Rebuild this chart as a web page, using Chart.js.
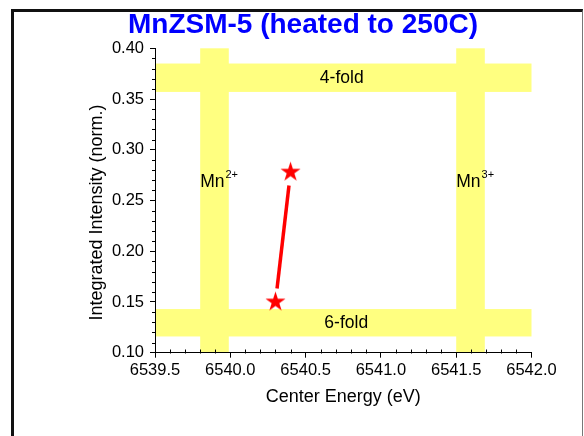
<!DOCTYPE html>
<html>
<head>
<meta charset="utf-8">
<script src="https://cdn.jsdelivr.net/npm/chart.js@4/dist/chart.umd.min.js"></script>
<style>
  html, body { margin: 0; padding: 0; background: #fff; width: 584px; height: 436px; overflow: hidden; }
  #frame { position: absolute; left: 11px; top: 9px; width: 568px; height: 520px;
           border-left: 3px solid #111; border-top: 3px solid #111; border-right: 1px solid #777; }
  #c { position: absolute; left: 0; top: 0; }
</style>
</head>
<body>
<div id="frame"></div>
<canvas id="c" width="584" height="436"></canvas>
<script>
// Measured points: pre-edge centroid energy vs. integrated intensity
const centerEnergy = [6540.30, 6540.40];
const intensity    = [0.150, 0.278];

// Axis ticks
const xTicks = [6539.5, 6540.0, 6540.5, 6541.0, 6541.5, 6542.0];
const yTicks = [0.10, 0.15, 0.20, 0.25, 0.30, 0.35, 0.40];

// Reference ranges: coordination (intensity) and oxidation state (energy)
const coordinationBands  = [[0.116, 0.143], [0.357, 0.385]];
const coordinationLabels = ['6-fold', '4-fold'];
const oxidationBands     = [[6539.80, 6539.99], [6541.50, 6541.69]];
const oxidationLabels    = [['Mn', '2+'], ['Mn', '3+']];

const FONT = '"Liberation Sans", Arial, Helvetica, sans-serif';
const BAND_COLOR = '#ffff80';
const RED = '#ff0000';

function starImage(r, color) {
  const size = Math.ceil(2 * r + 2);
  const cv = document.createElement('canvas');
  cv.width = cv.height = size;
  const g = cv.getContext('2d');
  const c = size / 2, ri = r * 0.382;
  g.fillStyle = color;
  g.beginPath();
  for (let i = 0; i < 10; i++) {
    const rad = i % 2 ? ri : r;
    const a = -Math.PI / 2 + i * Math.PI / 5;
    g.lineTo(c + rad * Math.cos(a), c + rad * Math.sin(a));
  }
  g.closePath();
  g.fill();
  return cv;
}
const STAR_R = 10.5;
const star = starImage(STAR_R, RED);

// Shaded reference bands and their labels, drawn beneath the axes
const bandsPlugin = {
  id: 'bands',
  beforeDraw(chart) {
    const { ctx, scales: { x, y } } = chart;
    const xl = x.getPixelForValue(x.min), xr = x.getPixelForValue(x.max);
    const yb = y.getPixelForValue(y.min), yt = y.getPixelForValue(y.max);
    ctx.save();
    ctx.fillStyle = BAND_COLOR;
    coordinationBands.forEach(([lo, hi]) => {
      const top = y.getPixelForValue(hi), bot = y.getPixelForValue(lo);
      ctx.fillRect(xl, top, xr - xl, bot - top);
    });
    oxidationBands.forEach(([lo, hi]) => {
      const l = x.getPixelForValue(lo), r = x.getPixelForValue(hi);
      ctx.fillRect(l, yt, r - l, yb - yt);
    });
    ctx.fillStyle = '#000';
    ctx.textBaseline = 'middle';
    ctx.textAlign = 'center';
    ctx.font = '17.5px ' + FONT;
    const labelX = [6540.77, 6540.74];
    coordinationBands.forEach(([lo, hi], i) => {
      ctx.fillText(coordinationLabels[i], x.getPixelForValue(labelX[i]), y.getPixelForValue((lo + hi) / 2));
    });
    ctx.textAlign = 'left';
    ctx.textBaseline = 'alphabetic';
    oxidationBands.forEach(([lo], i) => {
      const px = x.getPixelForValue(lo), py = y.getPixelForValue(0.263);
      ctx.font = '17.5px ' + FONT;
      ctx.fillText(oxidationLabels[i][0], px, py);
      const w = ctx.measureText(oxidationLabels[i][0]).width;
      ctx.font = '11px ' + FONT;
      ctx.fillText(oxidationLabels[i][1], px + w + 1, py - 9);
    });
    ctx.restore();
  }
};

// Connecting segment, stopped short of each marker
const linkPlugin = {
  id: 'link',
  beforeDatasetsDraw(chart) {
    const pts = chart.getDatasetMeta(0).data;
    const { ctx } = chart;
    const gap = STAR_R + 3;
    ctx.save();
    ctx.strokeStyle = RED;
    ctx.lineWidth = 3.5;
    ctx.lineCap = 'butt';
    for (let i = 1; i < pts.length; i++) {
      const a = pts[i - 1], b = pts[i];
      const dx = b.x - a.x, dy = b.y - a.y, len = Math.hypot(dx, dy);
      if (len <= 2 * gap) continue;
      const ux = dx / len, uy = dy / len;
      ctx.beginPath();
      ctx.moveTo(a.x + ux * gap, a.y + uy * gap);
      ctx.lineTo(b.x - ux * gap, b.y - uy * gap);
      ctx.stroke();
    }
    ctx.restore();
  }
};

// Minor tick marks: x inward, y outward
const minorTicksPlugin = {
  id: 'minorTicks',
  afterDraw(chart) {
    const { ctx, scales: { x, y } } = chart;
    ctx.save();
    ctx.strokeStyle = '#000';
    ctx.lineWidth = 1;
    ctx.beginPath();
    const yb = Math.round(y.getPixelForValue(y.min)) + 0.5;
    for (let i = 1; i < xTicks.length; i++) {
      const step = (xTicks[i] - xTicks[i - 1]) / 5;
      for (let k = 1; k < 5; k++) {
        const px = Math.round(x.getPixelForValue(xTicks[i - 1] + k * step)) + 0.5;
        ctx.moveTo(px, yb);
        ctx.lineTo(px, yb - 4);
      }
    }
    const xl = Math.round(x.getPixelForValue(x.min)) + 0.5;
    for (let i = 1; i < yTicks.length; i++) {
      const step = (yTicks[i] - yTicks[i - 1]) / 5;
      for (let k = 1; k < 5; k++) {
        const py = Math.round(y.getPixelForValue(yTicks[i - 1] + k * step)) + 0.5;
        ctx.moveTo(xl, py);
        ctx.lineTo(xl - 3.5, py);
      }
    }
    ctx.stroke();
    ctx.restore();
  }
};

// Chart title and y-axis title
const titlesPlugin = {
  id: 'titles',
  afterDraw(chart) {
    const { ctx } = chart;
    ctx.save();
    ctx.fillStyle = '#0000ff';
    ctx.font = 'bold 28px ' + FONT;
    ctx.textAlign = 'center';
    ctx.textBaseline = 'alphabetic';
    ctx.fillText('MnZSM-5 (heated to 250C)', 303, 33.3);
    ctx.fillStyle = '#000';
    ctx.font = '18px ' + FONT;
    ctx.translate(97, 212.5);
    ctx.rotate(-Math.PI / 2);
    ctx.textBaseline = 'middle';
    ctx.fillText('Integrated Intensity (norm.)', 0, 0);
    ctx.restore();
  }
};

new Chart(document.getElementById('c'), {
  type: 'scatter',
  data: {
    datasets: [{
      data: centerEnergy.map((x, i) => ({ x, y: intensity[i] })),
      pointStyle: star,
      pointRadius: STAR_R,
      pointHoverRadius: STAR_R,
      backgroundColor: RED,
      borderColor: RED,
      showLine: false
    }]
  },
  options: {
    responsive: false,
    animation: false,
    devicePixelRatio: 1,
    layout: { padding: { left: 0, right: 52.5, top: 48.3, bottom: 0 } },
    plugins: { legend: { display: false }, tooltip: { enabled: false }, title: { display: false } },
    scales: {
      x: {
        type: 'linear',
        min: xTicks[0],
        max: xTicks[xTicks.length - 1],
        afterBuildTicks: s => { s.ticks = xTicks.map(v => ({ value: v })); },
        afterFit: s => { s.height = 83.3; },
        grid: { drawOnChartArea: false, drawTicks: true, tickLength: 5, color: '#000', tickColor: '#000' },
        border: { display: true, color: '#000', width: 1 },
        ticks: {
          color: '#000', padding: 3, maxRotation: 0, autoSkip: false,
          font: { family: FONT, size: 16.5 },
          callback: v => Number(v).toFixed(1)
        },
        title: {
          display: true, text: 'Center Energy (eV)', color: '#000',
          font: { family: FONT, size: 18 }, padding: { top: 0, bottom: 28.5 }
        }
      },
      y: {
        type: 'linear',
        min: yTicks[0],
        max: yTicks[yTicks.length - 1],
        afterBuildTicks: s => { s.ticks = yTicks.map(v => ({ value: v })); },
        afterFit: s => { s.width = 155; },
        grid: { drawOnChartArea: false, drawTicks: true, tickLength: 5, color: '#000', tickColor: '#000' },
        border: { display: true, color: '#000', width: 1 },
        ticks: {
          color: '#000', padding: 6, autoSkip: false,
          font: { family: FONT, size: 16.5 },
          callback: v => Number(v).toFixed(2)
        }
      }
    }
  },
  plugins: [bandsPlugin, linkPlugin, minorTicksPlugin, titlesPlugin]
});
</script>
</body>
</html>
